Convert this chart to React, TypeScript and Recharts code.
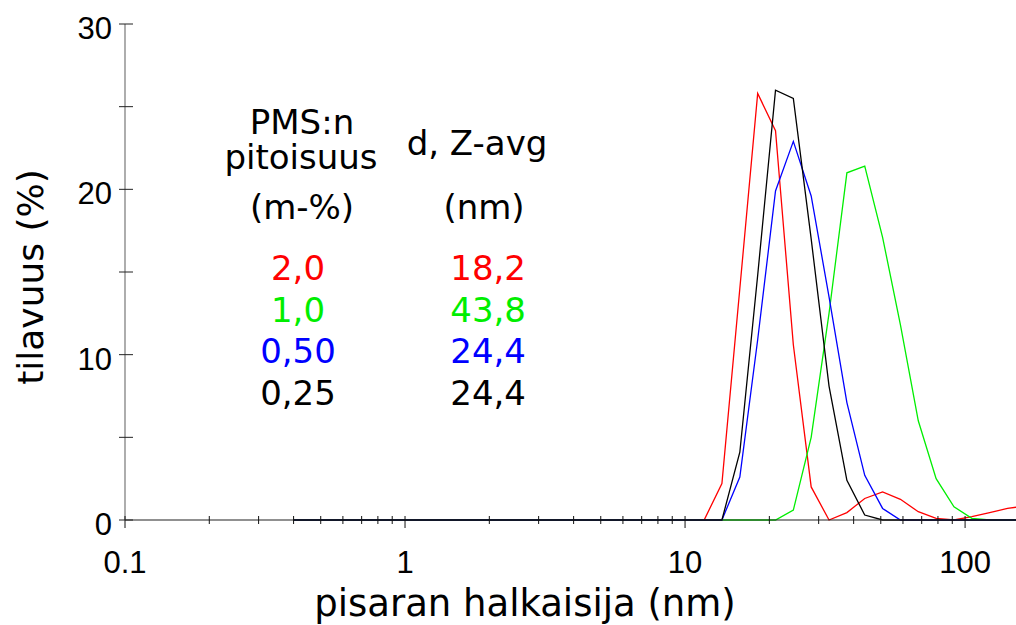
import React from 'react';
import { LineChart, Line, XAxis, YAxis } from 'recharts';

// Particle size bins (nm)
const sizes = [
  0.4, 0.4632, 0.5365, 0.6213, 0.7195, 0.8332, 0.9649, 1.117, 1.294, 1.499,
  1.736, 2.01, 2.328, 2.696, 3.122, 3.615, 4.187, 4.849, 5.615, 6.503,
  7.531, 8.721, 10.1, 11.7, 13.54, 15.69, 18.17, 21.04, 24.36, 28.21,
  32.67, 37.84, 43.82, 50.75, 58.77, 68.06, 78.82, 91.28, 105.7, 122.4,
  141.8, 164.2,
];

// Volume (%) per series
const red20 = [
  0, 0, 0, 0, 0, 0, 0, 0, 0, 0,
  0, 0, 0, 0, 0, 0, 0, 0, 0, 0,
  0, 0, 0, 0, 2.2, 14.0, 25.8, 23.55, 10.6, 2.0,
  0, 0.45, 1.3, 1.7, 1.25, 0.5, 0.1, 0, 0.2, 0.45,
  0.7, 0.85,
];
const green10 = [
  0, 0, 0, 0, 0, 0, 0, 0, 0, 0,
  0, 0, 0, 0, 0, 0, 0, 0, 0, 0,
  0, 0, 0, 0, 0, 0, 0, 0, 0.6, 5.0,
  12.5, 21.0, 21.4, 17.1, 11.8, 6.0, 2.5, 0.8, 0.1, 0,
  0, 0,
];
const blue050 = [
  0, 0, 0, 0, 0, 0, 0, 0, 0, 0,
  0, 0, 0, 0, 0, 0, 0, 0, 0, 0,
  0, 0, 0, 0, 0, 2.6, 10.9, 19.9, 22.9, 19.6,
  13.5, 7.1, 2.7, 0.7, 0, 0, 0, 0, 0, 0,
  0, 0,
];
const black025 = [
  0, 0, 0, 0, 0, 0, 0, 0, 0, 0,
  0, 0, 0, 0, 0, 0, 0, 0, 0, 0,
  0, 0, 0, 0, 0, 4.1, 14.8, 26.0, 25.5, 17.0,
  8.1, 2.4, 0.3, 0, 0, 0, 0, 0, 0, 0,
  0, 0,
];

const xTicks = [
  0.1, 0.2, 0.3, 0.4, 0.5, 0.6, 0.7, 0.8, 0.9,
  1, 2, 3, 4, 5, 6, 7, 8, 9,
  10, 20, 30, 40, 50, 60, 70, 80, 90, 100,
];
const xLabelTicks = [0.1, 1, 10, 100];
const yTicks = [0, 5, 10, 15, 20, 25, 30];
const yLabelTicks = [0, 10, 20, 30];

const legendHeaderLeft = ['PMS:n', 'pitoisuus', '(m-%)'];
const legendHeaderRight = ['d, Z-avg', '(nm)'];
const concentrations = ['2,0', '1,0', '0,50', '0,25'];
const zAvg = ['18,2', '43,8', '24,4', '24,4'];
const seriesColors = ['#ff0000', '#00ee00', '#0000ff', '#000000'];

const data = sizes.map((d, i) => ({
  d,
  s20: red20[i],
  s10: green10[i],
  s050: blue050[i],
  s025: black025[i],
}));

const tickFont = '"Liberation Sans", Arial, sans-serif';
const textFont = '"DejaVu Sans", Verdana, sans-serif';

const XTick = (props: any) => {
  const { x, y, payload } = props;
  const v = payload.value;
  const major = xLabelTicks.includes(v);
  return (
    <g>
      <line x1={x} x2={x} y1={y - 4} y2={major ? y + 8 : y + 4} stroke="#111" strokeWidth={1} />
      {major && (
        <text x={x} y={y + 53} textAnchor="middle" fontFamily={tickFont} fontSize={31} fill="#000">
          {String(v)}
        </text>
      )}
    </g>
  );
};

const YTick = (props: any) => {
  const { x, y, payload } = props;
  const v = payload.value;
  const major = yLabelTicks.includes(v);
  return (
    <g>
      <line x1={x - 6} x2={x + 8} y1={y} y2={y} stroke="#222" strokeWidth={1} />
      {major && (
        <text x={x - 13} y={y + 15} textAnchor="end" fontFamily={tickFont} fontSize={31} fill="#000">
          {String(v)}
        </text>
      )}
    </g>
  );
};

export default function App() {
  const rowBaselines = [280, 322, 363, 405];
  return (
    <div style={{ position: 'absolute', left: 0, top: 0, width: 1016, height: 625, background: '#fff' }}>
      <LineChart width={1016} height={625} data={data} margin={{ top: 24, right: 0, left: 0, bottom: 0 }}>
        <XAxis
          dataKey="d"
          type="number"
          scale="log"
          domain={[0.1, 152]}
          allowDataOverflow
          ticks={xTicks}
          interval={0}
          height={105}
          tickSize={0}
          tickMargin={0}
          tick={<XTick />}
          axisLine={{ stroke: '#222', strokeWidth: 1.2 }}
        />
        <YAxis
          type="number"
          domain={[0, 30]}
          ticks={yTicks}
          interval={0}
          width={125}
          tickSize={0}
          tickMargin={0}
          tick={<YTick />}
          axisLine={{ stroke: '#777', strokeWidth: 1.2 }}
        />
        <Line type="linear" dataKey="s20" stroke={seriesColors[0]} strokeWidth={1.3} dot={false} isAnimationActive={false} />
        <Line type="linear" dataKey="s10" stroke={seriesColors[1]} strokeWidth={1.3} dot={false} isAnimationActive={false} />
        <Line type="linear" dataKey="s050" stroke={seriesColors[2]} strokeWidth={1.3} dot={false} isAnimationActive={false} />
        <Line type="linear" dataKey="s025" stroke={seriesColors[3]} strokeWidth={1.3} dot={false} isAnimationActive={false} />
      </LineChart>
      <svg width={1016} height={625} style={{ position: 'absolute', left: 0, top: 0, pointerEvents: 'none' }}>
        <text
          x={43}
          y={277}
          transform="rotate(-90 43 277)"
          textAnchor="middle"
          fontFamily={textFont}
          fontSize={36}
          fill="#000"
        >
          tilavuus (%)
        </text>
        <text x={525} y={616} textAnchor="middle" fontFamily={textFont} fontSize={37} fill="#000">
          pisaran halkaisija (nm)
        </text>
        <text x={302} y={134} textAnchor="middle" fontFamily={textFont} fontSize={34} fill="#000">{legendHeaderLeft[0]}</text>
        <text x={301} y={169} textAnchor="middle" fontFamily={textFont} fontSize={34} fill="#000">{legendHeaderLeft[1]}</text>
        <text x={302} y={219} textAnchor="middle" fontFamily={textFont} fontSize={34} fill="#000">{legendHeaderLeft[2]}</text>
        <text x={477} y={155} textAnchor="middle" fontFamily={textFont} fontSize={34} fill="#000">{legendHeaderRight[0]}</text>
        <text x={484} y={219} textAnchor="middle" fontFamily={textFont} fontSize={34} fill="#000">{legendHeaderRight[1]}</text>
        {concentrations.map((c, i) => (
          <text key={'c' + i} x={298} y={rowBaselines[i]} textAnchor="middle" fontFamily={textFont} fontSize={34} fill={seriesColors[i]}>
            {c}
          </text>
        ))}
        {zAvg.map((z, i) => (
          <text key={'z' + i} x={526} y={rowBaselines[i]} textAnchor="end" fontFamily={textFont} fontSize={34} fill={seriesColors[i]}>
            {z}
          </text>
        ))}
      </svg>
    </div>
  );
}
